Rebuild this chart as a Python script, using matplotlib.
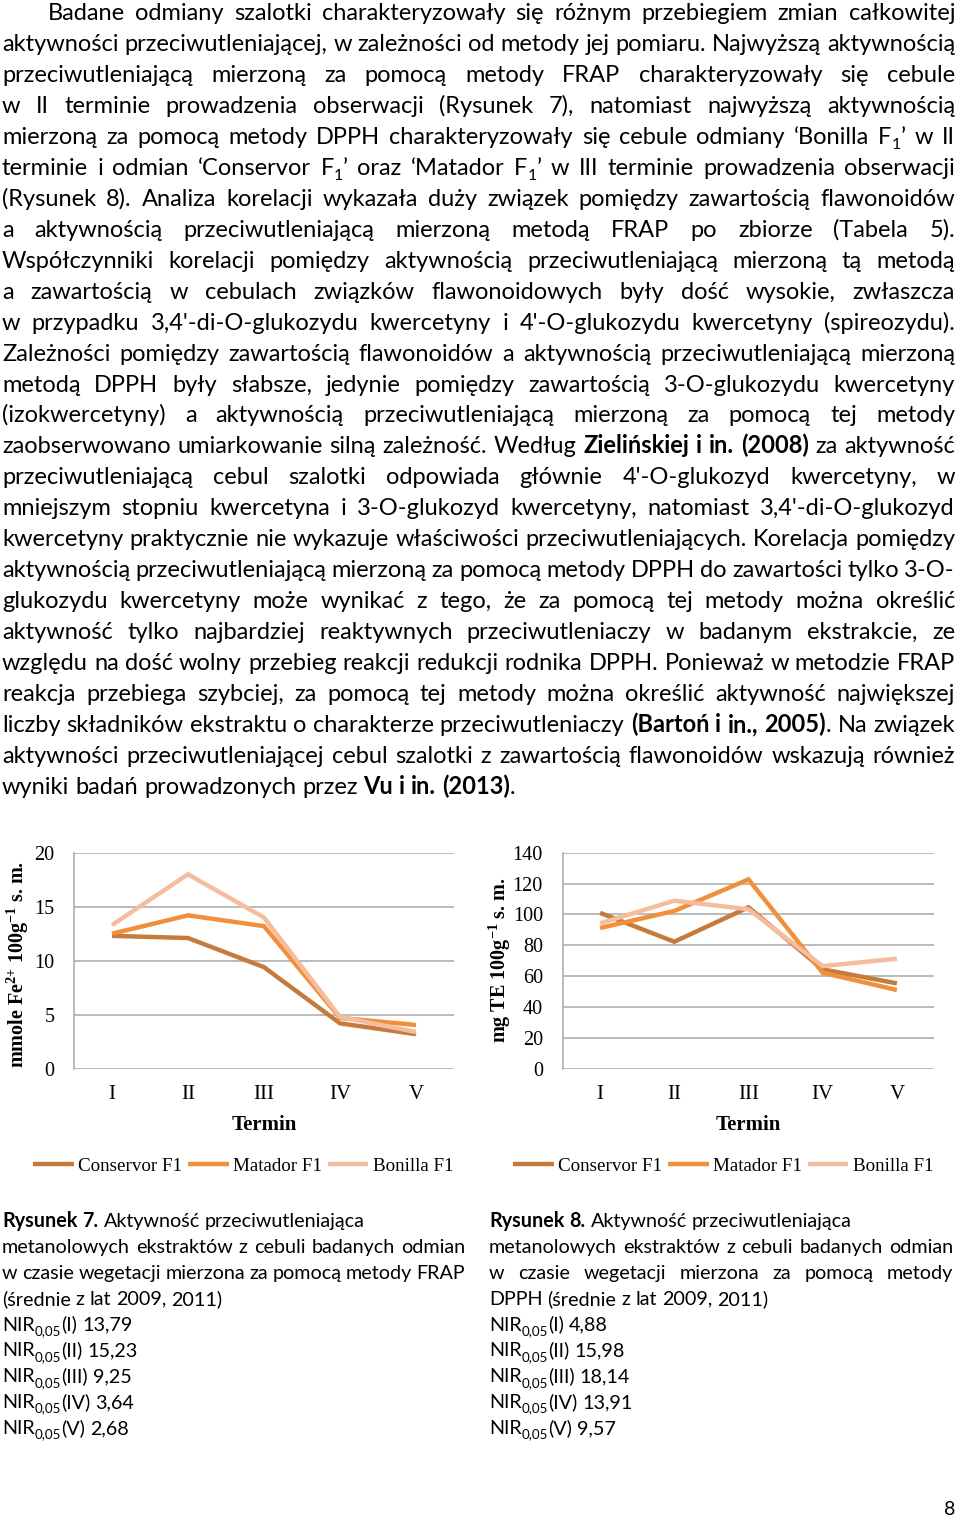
import re
import matplotlib
matplotlib.use('Agg')
import matplotlib.pyplot as plt
from matplotlib.transforms import IdentityTransform
from matplotlib.font_manager import FontProperties

W, H, DPI = 960, 1517, 100

# ---------------- data ----------------
terms = ['I', 'II', 'III', 'IV', 'V']
varieties = ['Conservor F1', 'Matador F1', 'Bonilla F1']
frap_conservor = [12.3, 12.1, 9.4, 4.2, 3.2]
frap_matador = [12.5, 14.2, 13.2, 4.7, 4.05]
frap_bonilla = [13.3, 18.0, 14.0, 4.8, 3.4]
dpph_conservor = [101.0, 82.3, 104.6, 64.4, 55.3]
dpph_matador = [91.2, 102.2, 122.7, 62.2, 51.0]
dpph_bonilla = [94.2, 108.9, 103.3, 66.5, 71.3]
frap_ticks = [0, 5, 10, 15, 20]
dpph_ticks = [0, 20, 40, 60, 80, 100, 120, 140]
colors = ['#C47B3D', '#F0903B', '#F5BD9E']

body_lines = [
    "Badane odmiany szalotki charakteryzowały się różnym przebiegiem zmian całkowitej",
    "aktywności przeciwutleniającej, w zależności od metody jej pomiaru. Najwyższą aktywnością",
    "przeciwutleniającą mierzoną za pomocą metody FRAP charakteryzowały się cebule",
    "w II terminie prowadzenia obserwacji (Rysunek 7), natomiast najwyższą aktywnością",
    "mierzoną za pomocą metody DPPH charakteryzowały się cebule odmiany ‘Bonilla F_{1}’ w II",
    "terminie i odmian ‘Conservor F_{1}’ oraz ‘Matador F_{1}’ w III terminie prowadzenia obserwacji",
    "(Rysunek 8). Analiza korelacji wykazała duży związek pomiędzy zawartością flawonoidów",
    "a aktywnością przeciwutleniającą mierzoną metodą FRAP po zbiorze (Tabela 5).",
    "Współczynniki korelacji pomiędzy aktywnością przeciwutleniającą mierzoną tą metodą",
    "a zawartością w cebulach związków flawonoidowych były dość wysokie, zwłaszcza",
    "w przypadku 3,4'-di-O-glukozydu kwercetyny i 4'-O-glukozydu kwercetyny (spireozydu).",
    "Zależności pomiędzy zawartością flawonoidów a aktywnością przeciwutleniającą mierzoną",
    "metodą DPPH były słabsze, jedynie pomiędzy zawartością 3-O-glukozydu kwercetyny",
    "(izokwercetyny) a aktywnością przeciwutleniającą mierzoną za pomocą tej metody",
    "zaobserwowano umiarkowanie silną zależność. Według **Zielińskiej i in. (2008)** za aktywność",
    "przeciwutleniającą cebul szalotki odpowiada głównie 4'-O-glukozyd kwercetyny, w",
    "mniejszym stopniu kwercetyna i 3-O-glukozyd kwercetyny, natomiast 3,4'-di-O-glukozyd",
    "kwercetyny praktycznie nie wykazuje właściwości przeciwutleniających. Korelacja pomiędzy",
    "aktywnością przeciwutleniającą mierzoną za pomocą metody DPPH do zawartości tylko 3-O-",
    "glukozydu kwercetyny może wynikać z tego, że za pomocą tej metody można określić",
    "aktywność tylko najbardziej reaktywnych przeciwutleniaczy w badanym ekstrakcie, ze",
    "względu na dość wolny przebieg reakcji redukcji rodnika DPPH. Ponieważ w metodzie FRAP",
    "reakcja przebiega szybciej, za pomocą tej metody można określić aktywność największej",
    "liczby składników ekstraktu o charakterze przeciwutleniaczy **(Bartoń i in., 2005)**. Na związek",
    "aktywności przeciwutleniającej cebul szalotki z zawartością flawonoidów wskazują również",
    "wyniki badań prowadzonych przez **Vu i in. (2013)**.",
]

cap7_lines = [
    "**Rysunek 7.** Aktywność przeciwutleniająca",
    "metanolowych ekstraktów z cebuli badanych odmian",
    "w czasie wegetacji mierzona za pomocą metody FRAP",
    "(średnie z lat 2009, 2011)",
    "NIR_{0,05}(I) 13,79",
    "NIR_{0,05}(II) 15,23",
    "NIR_{0,05}(III) 9,25",
    "NIR_{0,05}(IV) 3,64",
    "NIR_{0,05}(V) 2,68",
]
cap8_lines = [
    "**Rysunek 8.** Aktywność przeciwutleniająca",
    "metanolowych ekstraktów z cebuli badanych odmian",
    "w czasie wegetacji mierzona za pomocą metody",
    "DPPH (średnie z lat 2009, 2011)",
    "NIR_{0,05}(I) 4,88",
    "NIR_{0,05}(II) 15,98",
    "NIR_{0,05}(III) 18,14",
    "NIR_{0,05}(IV) 13,91",
    "NIR_{0,05}(V) 9,57",
]

# ---------------- helpers ----------------
SANS = ['Lato', 'DejaVu Sans']
SERIF = 'Liberation Serif'
plt.rcParams['mathtext.default'] = 'regular'

fig = plt.figure(figsize=(W / DPI, H / DPI), dpi=DPI)
renderer = fig.canvas.get_renderer()
IDT = IdentityTransform()


def parse(line):
    words = [[]]
    bold = False
    for tok in re.split(r'(\*\*|_\{[^}]*\})', line):
        if tok == '**':
            bold = not bold
            continue
        if tok.startswith('_{'):
            words[-1].append((tok[2:-1], bold, True))
            continue
        parts = tok.split(' ')
        for k, p in enumerate(parts):
            if k > 0:
                words.append([])
            if p:
                words[-1].append((p, bold, False))
    return [w for w in words if w]


def measure(t, size, bold):
    txt = fig.text(0, 0, t, fontsize=size, family=SANS,
                   fontweight='bold' if bold else 'normal', transform=IDT)
    wd = txt.get_window_extent(renderer).width
    txt.remove()
    return wd


def natural_width(line, size, space_factor=1.0):
    words = parse(line)
    tot = 0
    for w in words:
        for (t, b, s) in w:
            tot += measure(t, size * 0.68 if s else size, b)
    sp = measure('x x', size, False) - measure('xx', size, False)
    return tot + sp * space_factor * (len(words) - 1)


def draw_line(line, x0, x1, baseline, size, justify):
    words = parse(line)
    objs, widths = [], []
    for w in words:
        wo, ww = [], 0
        for (t, b, s) in w:
            fs = size * 0.68 if s else size
            txt = fig.text(0, 0, t, fontsize=fs, family=SANS,
                           fontweight='bold' if b else 'normal',
                           transform=IDT, va='baseline', ha='left')
            wd = txt.get_window_extent(renderer).width
            wo.append((txt, wd, s))
            ww += wd
        objs.append(wo)
        widths.append(ww)
    sp = measure('x x', size, False) - measure('xx', size, False)
    n = len(words)
    gap = (x1 - x0 - sum(widths)) / (n - 1) if (justify and n > 1) else sp
    x = x0
    for wo in objs:
        for txt, wd, s in wo:
            y = baseline + (size * DPI / 72 * 0.22 if s else 0)
            txt.set_position((x, H - y))
            x += wd
        x += gap


# ---------------- body text ----------------
L, R = 2, 955
ref = 10.0
fit = []
for i, ln in enumerate(body_lines[:-1]):
    x0 = 48 if i == 0 else L
    fit.append(ref * (R - x0) / natural_width(ln, ref, 0.75))
body_size = min(18.0, min(fit) * 0.995)
for i, ln in enumerate(body_lines):
    x0 = 48 if i == 0 else L
    draw_line(ln, x0, R, 20 + 30.96 * i, body_size, i < len(body_lines) - 1)

# ---------------- captions ----------------
cap_fit = min(ref * 463 / natural_width(cap7_lines[1], ref, 0.8),
              ref * 463 / natural_width(cap7_lines[2], ref, 0.8),
              ref * 464 / natural_width(cap8_lines[1], ref, 0.8))
cap_size = min(15.0, cap_fit * 0.995)
for i, ln in enumerate(cap7_lines):
    draw_line(ln, 2, 465, 1227 + 25.9 * i, cap_size, i in (1, 2))
for i, ln in enumerate(cap8_lines):
    draw_line(ln, 489, 953, 1227 + 25.9 * i, cap_size, i in (1, 2))

fig.text(955, H - 1515, '8', fontsize=14, family=SANS, ha='right',
         va='baseline', transform=IDT)


# ---------------- charts ----------------
def make_chart(left_px, right_px, series, ticks, ylabel, ylab_x, ylab_y,
               leg_cx, tick_pad):
    top_px, bot_px = 852.7, 1068.7
    ax = fig.add_axes([left_px / W, 1 - bot_px / H,
                       (right_px - left_px) / W, (bot_px - top_px) / H])
    xs = list(range(1, len(terms) + 1))
    handles = []
    for vals, c, name in zip(series, colors, varieties):
        h, = ax.plot(xs, vals, color=c, lw=3.2, solid_capstyle='butt',
                     solid_joinstyle='miter', label=name, zorder=3)
        handles.append(h)
    ax.set_xlim(0.5, len(terms) + 0.5)
    ax.set_ylim(ticks[0], ticks[-1])
    ax.set_yticks(ticks)
    ax.set_xticks(xs)
    ax.set_xticklabels(terms)
    ax.yaxis.grid(True, color='#A8A8A8', lw=1.1)
    ax.set_axisbelow(True)
    for s in ('top', 'right', 'bottom'):
        ax.spines[s].set_visible(False)
    ax.spines['left'].set_color('#A8A8A8')
    ax.spines['left'].set_linewidth(1.1)
    ax.tick_params(axis='y', length=0, pad=tick_pad, labelsize=14.5,
                   labelfontfamily=SERIF)
    ax.tick_params(axis='x', length=0, pad=12, labelsize=15,
                   labelfontfamily=SERIF)
    cx = (left_px + right_px) / 2
    fig.text(cx, H - 1125, 'Termin', fontsize=15, family=SERIF,
             fontweight='bold', ha='center', va='center', transform=IDT)
    fig.text(ylab_x, H - ylab_y, ylabel, fontsize=14.5, family=SERIF,
             fontweight='bold', rotation=90, ha='center', va='center',
             transform=IDT)
    ax.legend(handles, varieties, loc='center',
              bbox_to_anchor=(leg_cx / W, 1 - 1166 / H),
              bbox_transform=fig.transFigure, ncol=3, frameon=False,
              handlelength=2.15, handletextpad=0.22, columnspacing=0.3,
              borderaxespad=0, borderpad=0,
              prop=FontProperties(family=SERIF, size=13.7))
    return ax


make_chart(74, 454, [frap_conservor, frap_matador, frap_bonilla], frap_ticks,
           r'mmole Fe$^{2{+}}$ 100g$^{{-}1}$ s. m.', 18, 965, 243, 14)
make_chart(563, 934, [dpph_conservor, dpph_matador, dpph_bonilla], dpph_ticks,
           r'mg TE 100g$^{{-}1}$ s. m.', 500, 960, 723, 14.5)

fig.savefig('out.png', dpi=DPI, facecolor='white')
